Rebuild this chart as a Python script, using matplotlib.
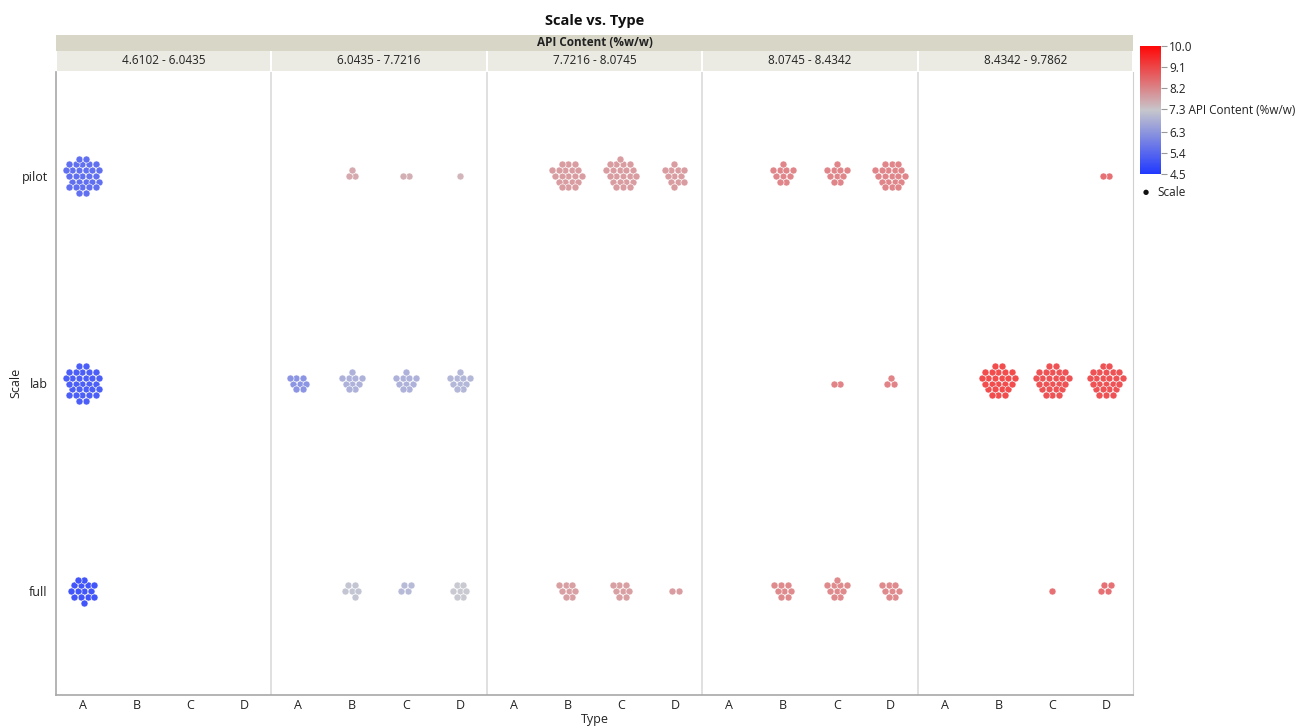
import numpy as np
import matplotlib
matplotlib.use("Agg")
import matplotlib.pyplot as plt
from matplotlib.colors import LinearSegmentedColormap, Normalize
from matplotlib.patches import Rectangle
import matplotlib.colorbar as mcolorbar

plt.rcParams['font.family'] = ['Open Sans', 'DejaVu Sans']

types = ['A', 'B', 'C', 'D']
scales = ['full', 'lab', 'pilot']
bins = ['4.6102 - 6.0435', '6.0435 - 7.7216', '7.7216 - 8.0745',
        '8.0745 - 8.4342', '8.4342 - 9.7862']

# number of runs per (bin, type)
pilot_n = [[30, 0, 0, 0], [0, 3, 2, 1], [0, 20, 22, 12], [0, 10, 10, 20], [0, 0, 0, 2]]
lab_n = [[30, 0, 0, 0], [8, 10, 10, 10], [0, 0, 0, 0], [0, 0, 2, 3], [0, 25, 25, 25]]
full_n = [[15, 0, 0, 0], [0, 6, 4, 7], [0, 8, 8, 2], [0, 8, 10, 8], [0, 0, 1, 4]]

# typical API content of each group (%w/w)
pilot_v = [[5.3, 0, 0, 0], [0, 7.8, 7.7, 7.6], [0, 8.0, 8.0, 8.0], [0, 8.35, 8.35, 8.35], [0, 0, 0, 8.7]]
lab_v = [[4.9, 0, 0, 0], [6.1, 6.7, 6.7, 6.8], [0, 0, 0, 0], [0, 0, 8.4, 8.4], [0, 9.3, 9.2, 9.2]]
full_v = [[4.7, 0, 0, 0], [0, 7.1, 6.9, 7.2], [0, 7.95, 7.95, 8.0], [0, 8.3, 8.3, 8.3], [0, 0, 8.7, 8.7]]

cbar_ticks = [4.5, 5.4, 6.3, 7.3, 8.2, 9.1, 10.0]

W, H = 1309, 727
fig = plt.figure(figsize=(W / 100, H / 100), dpi=100)


def fx(px):
    return px / W


def fy(py):
    return 1 - py / H


L, R, T, B = 56, 1133, 72, 695
ax = fig.add_axes([fx(L), fy(B), fx(R - L), (B - T) / H])

cmap = LinearSegmentedColormap.from_list('bgr', ['#2038ff', '#c6c6cc', '#ff0808'])
norm = Normalize(4.5, 10.0)

ncat = len(bins) * len(types)
ax.set_xlim(0, ncat)
ax.set_ylim(-0.5, 2.5)
ux = ncat / (R - L)   # data per px
uy = 3.0 / (B - T)


def hex_offsets(n, d=6.6):
    pts = []
    for r in range(-8, 9):
        for c in range(-8, 9):
            pts.append(((c + 0.5 * (r % 2)) * d, r * d * np.sqrt(3) / 2))
    pts.sort(key=lambda p: (round(np.hypot(p[0], p[1]), 3), np.arctan2(-p[1], p[0])))
    a = np.array(pts[:n])
    a[:, 0] -= a[:, 0].mean()
    return a


for si, (ns, vs) in enumerate([(full_n, full_v), (lab_n, lab_v), (pilot_n, pilot_v)]):
    for bi in range(len(bins)):
        for ti in range(len(types)):
            n = ns[bi][ti]
            if n == 0:
                continue
            off = hex_offsets(n)
            xc = bi * 4 + ti + 0.5
            ax.scatter(xc + off[:, 0] * ux, si + off[:, 1] * uy, s=26,
                       color=cmap(norm(vs[bi][ti])), edgecolors='white',
                       linewidths=0.5, alpha=0.9, zorder=3)

for bi in range(1, len(bins)):
    ax.axvline(bi * 4, color='#dadada', lw=1.2, zorder=1)

ax.set_xticks(np.arange(ncat) + 0.5)
ax.set_xticklabels(types * len(bins), fontsize=9, color='#222222')
ax.set_yticks([0, 1, 2])
ax.set_yticklabels(scales, fontsize=9, color='#222222')
ax.tick_params(axis='x', length=0, pad=3)
ax.tick_params(axis='y', length=0, pad=6)
for s in ['left', 'bottom']:
    ax.spines[s].set_color('#a8a8a8')
    ax.spines[s].set_linewidth(1.2)
ax.spines['right'].set_color('#d0d0d0')
ax.spines['top'].set_visible(False)

fig.text(fx((L + R) / 2), fy(719), 'Type', ha='center', va='center',
         fontsize=9, color='#222222')
fig.text(fx(16), fy(383), 'Scale', ha='center', va='center', rotation=90,
         fontsize=9, color='#222222')

# header bands
fig.patches.append(Rectangle((fx(L), fy(51)), fx(R - L), 16 / H,
                             transform=fig.transFigure, facecolor='#d8d7c7',
                             edgecolor='none'))
fig.text(fx((L + R) / 2), fy(43), 'API Content (%w/w)', ha='center', va='center',
         fontsize=8.5, fontweight='bold', color='#222222')
pw = (R - L) / len(bins)
for bi, lab in enumerate(bins):
    x0 = L + bi * pw
    fig.patches.append(Rectangle((fx(x0 + 1), fy(71)), fx(pw - 2), 20 / H,
                                 transform=fig.transFigure, facecolor='#ebebe3',
                                 edgecolor='none'))
    fig.text(fx(x0 + pw / 2), fy(61), lab, ha='center', va='center',
             fontsize=8.5, color='#222222')

fig.text(fx((L + R) / 2), fy(21), 'Scale vs. Type', ha='center', va='center',
         fontsize=10.5, fontweight='bold', color='#111111')

# colour legend
cax = fig.add_axes([fx(1140), fy(174), fx(21), 128 / H])
cb = mcolorbar.ColorbarBase(cax, cmap=cmap, norm=norm, ticks=cbar_ticks)
cb.outline.set_visible(False)
labels = ['%.1f' % t for t in cbar_ticks]
labels[3] = labels[3] + ' API Content (%w/w)'
cb.set_ticklabels(labels)
cax.tick_params(length=4, width=0.8, color='#999999', labelsize=8.5,
                labelcolor='#222222', pad=2)

fig.text(fx(1146), fy(192), '\u25cf', ha='center', va='center', fontsize=5,
         color='#111111', family='DejaVu Sans')
fig.text(fx(1157), fy(192), 'Scale', ha='left', va='center', fontsize=8.5,
         color='#222222')

fig.savefig('out.png', dpi=100)
